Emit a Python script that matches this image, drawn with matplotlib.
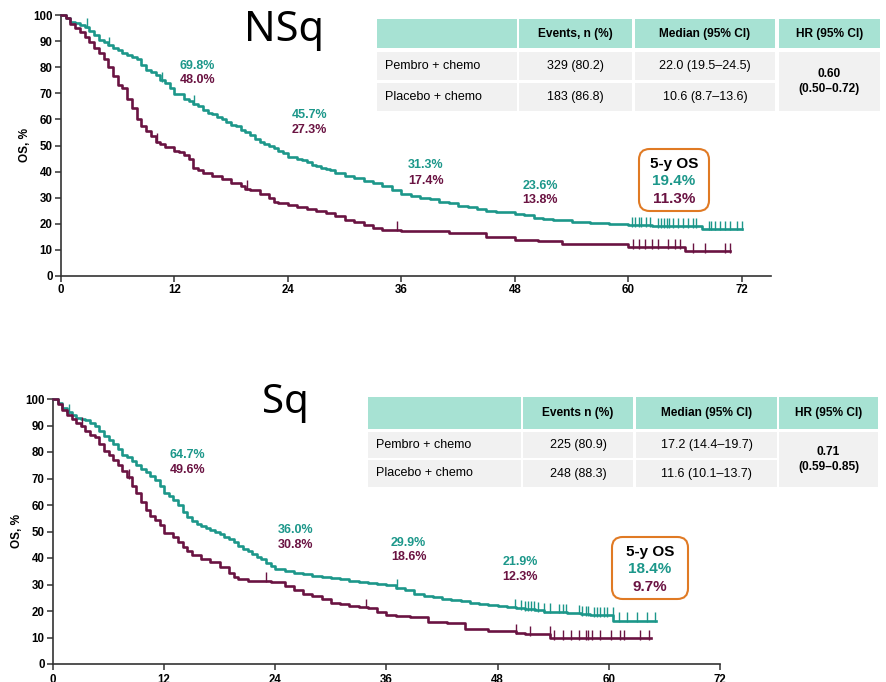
import numpy as np
import matplotlib
matplotlib.use("Agg")
import matplotlib.pyplot as plt
from matplotlib.patches import Rectangle, FancyBboxPatch

plt.rcParams['font.family'] = ['Liberation Sans', 'DejaVu Sans']

TEAL = '#1c978a'
PLUM = '#6a1342'
HEAD = '#a7e2d3'
CELL = '#f1f1f1'
ORANGE = '#e07a24'

# ---------------- NSq ----------------
nsq_pem_t = [0, 0.5, 1.0, 1.5, 2.0, 2.5, 3.0, 3.5, 4.0, 4.5, 5.0, 5.5, 6.0, 6.5, 7.0, 7.5, 8.0, 8.5,
             9.0, 9.5, 10.0, 10.5, 11.0, 11.5, 12.0, 13.0, 13.5, 14.0, 14.5, 15.0, 15.5, 16.0, 16.5,
             17.0, 17.5, 18.0, 18.5, 19.0, 19.5, 20.0, 20.5, 21.0, 21.5, 22.0, 22.5, 23.0, 23.5, 24.0,
             25.0, 25.5, 26.0, 26.5, 27.0, 27.5, 28.0, 28.5, 29.0, 30.0, 31.0, 32.0, 33.0, 34.0, 35.0,
             36.0, 37, 38, 39, 40, 41, 42, 43, 44, 45, 46, 48, 49, 50, 51, 52, 54, 56, 58, 60, 62.5,
             67.8, 72]
nsq_pem_s = [100, 99, 97.5, 97, 96, 95.5, 94, 92.5, 90.5, 89.5, 88.5, 87.5, 86.5, 85.5, 84.5, 84, 83, 81,
             79, 78, 77, 75, 74, 72, 69.8, 68, 67, 66, 65, 63.5, 62.5, 62, 61,
             60, 59, 58, 57.5, 56, 55, 54, 52.5, 51.5, 50.5, 50, 49, 48, 47, 45.7,
             45, 44.5, 43.5, 42.5, 42, 41.5, 41, 40.5, 39.5, 38.5, 37.5, 36.5, 35.5, 34.5, 33,
             31.3, 30.5, 30, 29.5, 28.5, 28, 27, 26.5, 25.5, 25, 24.5, 23.6, 23.2, 22.4, 21.8, 21.3,
             20.8, 20.4, 19.8, 19.4, 19.0, 18.0, 18.0]
nsq_pem_cens = [2.8, 5.1, 10.7, 14.1, 60.35, 60.7, 61.1, 61.4, 61.9, 62.3, 63.2, 63.5, 63.8, 64.1,
                64.3, 64.7, 65.3, 65.8, 66.3, 66.9, 67.2, 68.5, 68.8, 69.2, 69.7, 70.2, 70.8, 71.5, 72]

nsq_pbo_t = [0, 0.5, 1.0, 1.5, 2.0, 2.5, 3.0, 3.5, 4.0, 4.5, 5.0, 5.5, 6.0, 6.5, 7.0, 7.5, 8.0, 8.5,
             9.0, 9.5, 10.0, 10.5, 11.0, 12.0, 12.5, 13.0, 13.5, 14.0, 14.5, 15.0, 16.0, 17.0, 18.0,
             19.0, 19.5, 20.0, 21.0, 22.0, 22.5, 23.0, 24.0, 25.0, 26.0, 27.0, 28.0, 29.0, 30.0, 31.0,
             32.0, 33.0, 34.0, 36.0, 41.0, 45.0, 48.0, 50.5, 53.0, 60.0, 60.4, 66.0, 70.8]
nsq_pbo_s = [100, 99, 96.5, 95, 93.5, 91.5, 89.5, 87.5, 85.5, 83, 80, 76.5, 73, 72, 68, 64.5, 60, 57.5,
             55.5, 53.5, 51.5, 50.5, 49.5, 48.0, 47.5, 46.5, 45, 41.5, 40.5, 39.5, 38.5, 37, 35.5,
             34.5, 33.5, 33, 31.5, 30, 28.5, 28, 27.3, 26.5, 25.5, 24.8, 24, 22.8, 21.5, 20.5,
             19.5, 18.5, 17.8, 17.4, 16.5, 14.8, 13.8, 13.5, 12.2, 11.3, 11.0, 9.5, 9.5]
nsq_pbo_cens = [10.2, 19.7, 35.5, 60.5, 61.1, 61.8, 62.5, 63.2, 64.2, 64.9, 65.5, 66.9, 68.1, 70.2, 70.8]

nsq_land_pem = ['69.8%', '45.7%', '31.3%', '23.6%']
nsq_land_pbo = ['48.0%', '27.3%', '17.4%', '13.8%']
nsq_5y = ['19.4%', '11.3%']
nsq_table = [['Pembro + chemo', '329 (80.2)', '22.0 (19.5\u201324.5)'],
             ['Placebo + chemo', '183 (86.8)', '10.6 (8.7\u201313.6)']]
nsq_hr = '0.60\n(0.50\u20130.72)'
nsq_headers = ['Events, n (%)', 'Median (95% CI)', 'HR (95% CI)']

# ---------------- Sq ----------------
sq_pem_t = [0, 0.5, 1.0, 1.5, 2.0, 2.5, 3.0, 3.5, 4.0, 4.5, 5.0, 5.5, 6.0, 6.5, 7.0, 7.5, 8.0, 8.5,
            9.0, 9.5, 10.0, 10.5, 11.0, 11.5, 12.0, 12.5, 13.0, 13.5, 14.0, 14.5, 15.0, 15.5, 16.0,
            16.5, 17.0, 17.5, 18.0, 18.5, 19.0, 19.5, 20.0, 20.5, 21.0, 21.5, 22.0, 22.5, 23.0, 23.5,
            24.0, 25.0, 26.0, 27.0, 28.0, 29.0, 30.0, 31.0, 32.0, 33.0, 34.0, 35.0, 36.0, 37.0, 38.0,
            39.0, 40.0, 41.0, 42.0, 43.0, 44.0, 45.0, 46.0, 47.0, 48.0, 49.0, 50.0, 51.0, 52.0, 53.0,
            54.0, 55.5, 57.0, 58.0, 60.5, 65.1]
sq_pem_s = [100, 98.5, 96.5, 95, 94, 93, 92.5, 92, 91, 90, 88, 86, 84.5, 83, 81, 79, 78, 76.5,
            75, 73.5, 72.5, 71, 69.5, 67, 64.7, 63.5, 62, 60, 57.5, 55.5, 54, 53, 52,
            51.5, 50.5, 50, 49, 48, 47, 46, 44.5, 43.5, 42.5, 41.5, 40.5, 39.5, 38, 37,
            36.0, 35, 34.2, 33.8, 33.2, 33, 32.5, 32, 31.5, 31, 30.5, 30.2, 29.9, 28.8, 27.8,
            26.5, 25.8, 25.2, 24.6, 24.2, 23.6, 23.0, 22.6, 22.2, 21.9, 21.5, 21.0, 20.6, 20.2, 19.8,
            19.6, 19.2, 18.8, 18.4, 16.3, 16.3]
sq_pem_cens = [1.7, 37.1, 49.9, 50.5, 51.0, 51.3, 51.6, 51.9, 52.3, 53.0, 53.7, 54.6, 55.0, 55.4,
               56.8, 57.1, 57.5, 57.7, 58.4, 58.7, 59.1, 59.5, 59.8, 60.4, 61.1, 62.0, 63.0, 64.1, 65.0]

sq_pbo_t = [0, 0.5, 1.0, 1.5, 2.0, 2.5, 3.0, 3.5, 4.0, 4.5, 5.0, 5.5, 6.0, 6.5, 7.0, 7.5, 8.0, 8.5,
            9.0, 9.5, 10.0, 10.5, 11.0, 11.5, 12.0, 13.0, 13.5, 14.0, 14.5, 15.0, 16.0, 17.0, 18.0,
            19.0, 19.5, 20.0, 21.0, 23.5, 24.0, 25.0, 26.0, 27.0, 28.0, 29.0, 30.0, 31.0, 32.0, 33.0,
            34.0, 35.0, 36.0, 37.0, 38.5, 40.5, 42.5, 44.5, 47.0, 48.0, 50.0, 51.0, 53.7, 64.5]
sq_pbo_s = [100, 98, 96, 94, 92.5, 91, 90, 88, 86.5, 85.5, 83, 80.5, 79, 77, 75, 73, 70.5, 67,
            64.5, 61, 58, 56, 54.5, 52.5, 49.6, 48, 46, 44, 42.5, 41, 39.5, 38.5, 36.5,
            34.5, 33, 32, 31.5, 31, 30.8, 29.5, 28, 26.5, 25.5, 24.5, 23.2, 22.5, 21.8, 21.5,
            21.0, 19.6, 18.6, 18.0, 17.9, 16, 15.3, 13.3, 12.6, 12.3, 11.8, 11.2, 9.7, 9.7]
sq_pbo_cens = [3.1, 8.2, 23.0, 33.8, 50.0, 51.5, 53.6, 54.1, 55.0, 55.9, 56.8, 57.5, 57.8, 58.2,
               59.1, 60.2, 61.2, 61.6, 63.4, 64.3]

sq_land_pem = ['64.7%', '36.0%', '29.9%', '21.9%']
sq_land_pbo = ['49.6%', '30.8%', '18.6%', '12.3%']
sq_5y = ['18.4%', '9.7%']
sq_table = [['Pembro + chemo', '225 (80.9)', '17.2 (14.4\u201319.7)'],
            ['Placebo + chemo', '248 (88.3)', '11.6 (10.1\u201313.7)']]
sq_hr = '0.71\n(0.59\u20130.85)'
sq_headers = ['Events n (%)', 'Median (95% CI)', 'HR (95% CI)']

x_ticks = [0, 12, 24, 36, 48, 60, 72]
y_ticks = list(range(0, 101, 10))

W, H = 887, 682
fig = plt.figure(figsize=(W / 100, H / 100), dpi=100)


def fx(x):
    return x / W


def fy(y):
    return 1 - y / H


def km(ax, t, s, cens, color):
    ax.step(t, s, where='post', color=color, lw=1.9, clip_on=False, zorder=3)
    # survival value at each censoring time follows the step function
    idx = np.searchsorted(t, cens, side='right') - 1
    cy = np.asarray(s)[np.clip(idx, 0, len(s) - 1)]
    ax.vlines(cens, cy - 0.5, cy + 3.2, color=color, lw=1.0, zorder=3, clip_on=False)


def panel(rect, xmax, curves, land_pem, land_pbo, land_pos, fivey, box, ylabelpad):
    ax = fig.add_axes(rect)
    for t, s, c, col in curves:
        km(ax, t, s, c, col)
    ax.set_xlim(0, xmax)
    ax.set_ylim(0, 100)
    ax.set_xticks(x_ticks)
    ax.set_yticks(y_ticks)
    for sp in ['top', 'right']:
        ax.spines[sp].set_visible(False)
    for sp in ['left', 'bottom']:
        ax.spines[sp].set_linewidth(1.2)
        ax.spines[sp].set_color('#333333')
    ax.tick_params(direction='out', length=4, width=1.1, labelsize=8.3, pad=2, color='#333333')
    for lab in ax.get_xticklabels() + ax.get_yticklabels():
        lab.set_fontweight('bold')
    ax.set_ylabel('OS, %', fontsize=8.5, fontweight='bold', labelpad=ylabelpad)
    for (lx, ly1, ly2), a, b in zip(land_pos, land_pem, land_pbo):
        ax.text(lx, ly1, a, color=TEAL, fontsize=9, fontweight='bold', ha='center', va='center')
        ax.text(lx, ly2, b, color=PLUM, fontsize=9, fontweight='bold', ha='center', va='center')
    bx0, by0, bx1, by1 = box
    fig.add_artist(FancyBboxPatch((fx(bx0), fy(by1)), fx(bx1 - bx0), (by1 - by0) / H,
                                  boxstyle='round,pad=0,rounding_size=0.012',
                                  transform=fig.transFigure, fc='white', ec=ORANGE, lw=1.5,
                                  mutation_aspect=W / H))
    cx = fx((bx0 + bx1) / 2)
    hgt = by1 - by0
    fig.text(cx, fy(by0 + hgt * 0.24), '5-y OS', fontsize=11, fontweight='bold', ha='center', va='center')
    fig.text(cx, fy(by0 + hgt * 0.52), fivey[0], fontsize=11, fontweight='bold', color=TEAL, ha='center', va='center')
    fig.text(cx, fy(by0 + hgt * 0.80), fivey[1], fontsize=11, fontweight='bold', color=PLUM, ha='center', va='center')
    return ax


def table(cols, rows, headers, body, hr):
    # cols: list of (x0, x1); rows: header + 2 body rows as (y0, y1), in pixels from the top
    (h0, h1), (r10, r11), (r20, r21) = rows
    for ci, (c0, c1) in enumerate(cols):
        fig.add_artist(Rectangle((fx(c0), fy(h1)), fx(c1 - c0), (h1 - h0) / H,
                                 transform=fig.transFigure, fc=HEAD, ec='none'))
        if ci > 0:
            fig.text(fx((c0 + c1) / 2), fy((h0 + h1) / 2), headers[ci - 1], fontsize=8.6,
                     fontweight='bold', ha='center', va='center')
    for ri, (y0, y1) in enumerate([(r10, r11), (r20, r21)]):
        for ci, (c0, c1) in enumerate(cols[:3]):
            fig.add_artist(Rectangle((fx(c0), fy(y1)), fx(c1 - c0), (y1 - y0) / H,
                                     transform=fig.transFigure, fc=CELL, ec='none'))
            if ci == 0:
                fig.text(fx(c0 + 8), fy((y0 + y1) / 2), body[ri][0], fontsize=9, ha='left', va='center')
            else:
                fig.text(fx((c0 + c1) / 2), fy((y0 + y1) / 2), body[ri][ci], fontsize=9,
                         ha='center', va='center')
    c0, c1 = cols[3]
    fig.add_artist(Rectangle((fx(c0), fy(r21)), fx(c1 - c0), (r21 - r10) / H,
                             transform=fig.transFigure, fc=CELL, ec='none'))
    fig.text(fx((c0 + c1) / 2), fy((r10 + r21) / 2), hr, fontsize=8.6, fontweight='bold',
             ha='center', va='center', linespacing=1.3)


# Top panel: non-squamous
ax1 = panel([fx(61), fy(276), fx(771 - 61), (276 - 15) / H], 75.1,
            [(nsq_pem_t, nsq_pem_s, nsq_pem_cens, TEAL), (nsq_pbo_t, nsq_pbo_s, nsq_pbo_cens, PLUM)],
            nsq_land_pem, nsq_land_pbo,
            [(14.4, 80.4, 75.0), (26.3, 61.5, 56.0), (38.6, 42.7, 36.5), (50.7, 34.6, 29.2)],
            nsq_5y, (639, 149, 709, 211), 1.5)
fig.text(fx(284), fy(30), 'NSq', fontsize=30, ha='center', va='center', family='Noto Sans')
table([(377, 517), (519, 632), (635, 775), (779, 880)],
      [(19, 48), (52, 80), (83, 111)], nsq_headers, nsq_table, nsq_hr)

# Bottom panel: squamous
ax2 = panel([fx(53), fy(664), fx(720 - 53), (664 - 399) / H], 72,
            [(sq_pem_t, sq_pem_s, sq_pem_cens, TEAL), (sq_pbo_t, sq_pbo_s, sq_pbo_cens, PLUM)],
            sq_land_pem, sq_land_pbo,
            [(14.5, 78.9, 73.2), (26.2, 50.6, 44.9), (38.4, 45.7, 40.4), (50.4, 38.5, 32.8)],
            sq_5y, (612, 537, 688, 599), 1.5)
ax2.tick_params(axis='x', pad=3.5)
fig.text(fx(285), fy(403), 'Sq', fontsize=29, ha='center', va='center', family='Noto Sans')
table([(368, 521), (523, 633), (636, 777), (779, 878)],
      [(397, 429), (432, 458), (460, 487)], sq_headers, sq_table, sq_hr)

fig.savefig('out.png', dpi=100)
